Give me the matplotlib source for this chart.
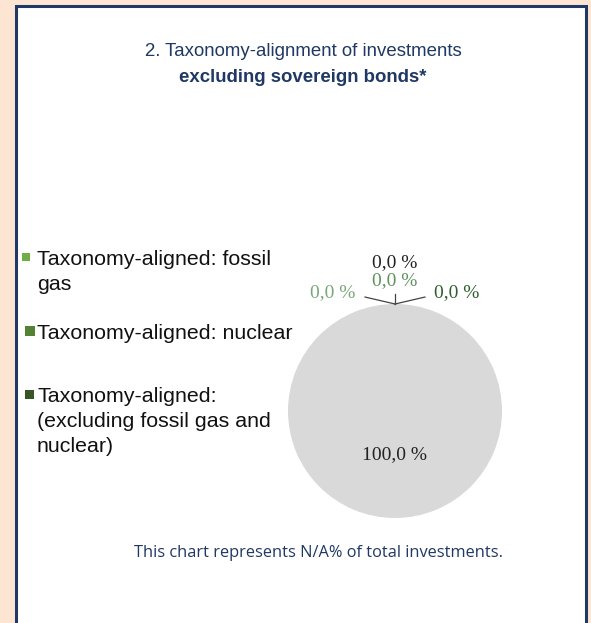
import matplotlib.pyplot as plt
from matplotlib.patches import Rectangle

# data
categories = ["Taxonomy-aligned: fossil\ngas",
              "Taxonomy-aligned: nuclear",
              "Taxonomy-aligned:\n(excluding fossil gas and\nnuclear)",
              "Non Taxonomy-aligned"]
values = [0.0, 0.0, 0.0, 100.0]
slice_colors = ["#70ad47", "#548235", "#375623", "#d9d9d9"]
# small labels around the top of the pie (black one is the extra label on top)
small_values = [0.0, 0.0, 0.0, 0.0]
small_colors = ["#7aa77a", "#5e925e", "#2f5f2f", "#222222"]
title_line1 = "2. Taxonomy-alignment of investments"
title_line2 = "excluding sovereign bonds*"
footer = "This chart represents N/A% of total investments."

navy = "#1f3864"


def fmt(v):
    return f"{v:.1f} %".replace(".", ",")


W, H = 591, 623
fig = plt.figure(figsize=(W / 100, H / 100), dpi=100)
fig.patch.set_facecolor("#fde5d3")

# background axes in pixel coordinates
bg = fig.add_axes([0, 0, 1, 1])
bg.set_xlim(0, W)
bg.set_ylim(H, 0)
bg.axis("off")
bg.add_patch(Rectangle((16, 6), 570, 640, facecolor="white",
                       edgecolor=navy, lw=2.2))

bg.text(303, 52, title_line1, ha="center", va="center", fontsize=13.4,
        color=navy, family="Liberation Sans")
bg.text(303, 78, title_line2, ha="center", va="center", fontsize=13.4,
        color=navy, family="Liberation Sans", fontweight="bold")

# legend, one baseline per line
leg_base = [265, 339, 402]
sq = [(26, 8), (30, 10), (29, 9)]
for cat, col, yb, (sx, size) in zip(categories[:3], slice_colors, leg_base, sq):
    bg.add_patch(Rectangle((sx - size / 2, yb - 8 - size / 2), size, size,
                           facecolor=col, edgecolor="none"))
    for i, line in enumerate(cat.split("\n")):
        bg.text(37, yb + 25 * i, line, ha="left", va="baseline", fontsize=15.4,
                family="Liberation Sans", color="#111111")

bg.text(319, 553, footer, ha="center", va="center", fontsize=11.8,
        color=navy, family="Open Sans")

# pie
cx, cy, r = 395, 411, 107
ax = fig.add_axes([(cx - r) / W, (H - cy - r) / H, 2 * r / W, 2 * r / H])
ax.pie(values, colors=slice_colors, startangle=90, counterclock=False,
       wedgeprops=dict(linewidth=0))
ax.set_xlim(-1, 1)
ax.set_ylim(-1, 1)
ax.set_aspect("equal")
ax.axis("off")

ax.text(0, -0.41, fmt(values[3]), ha="center", va="center", fontsize=14,
        family="Liberation Serif", color="#222222")

lab_pos = [(-0.58, 1.11), (0, 1.22), (0.58, 1.11), (0, 1.39)]
for v, c, (x, y) in zip(small_values, small_colors, lab_pos):
    ax.text(x, y, fmt(v), ha="center", va="center", fontsize=14,
            family="Liberation Serif", color=c, clip_on=False)

for x0, y0 in [(-0.28, 1.065), (0.28, 1.065), (0, 1.09)]:
    ax.plot([x0, 0], [y0, 1.0], color="#444444", lw=0.9, clip_on=False)

fig.savefig("out.png", dpi=100, facecolor=fig.get_facecolor())
